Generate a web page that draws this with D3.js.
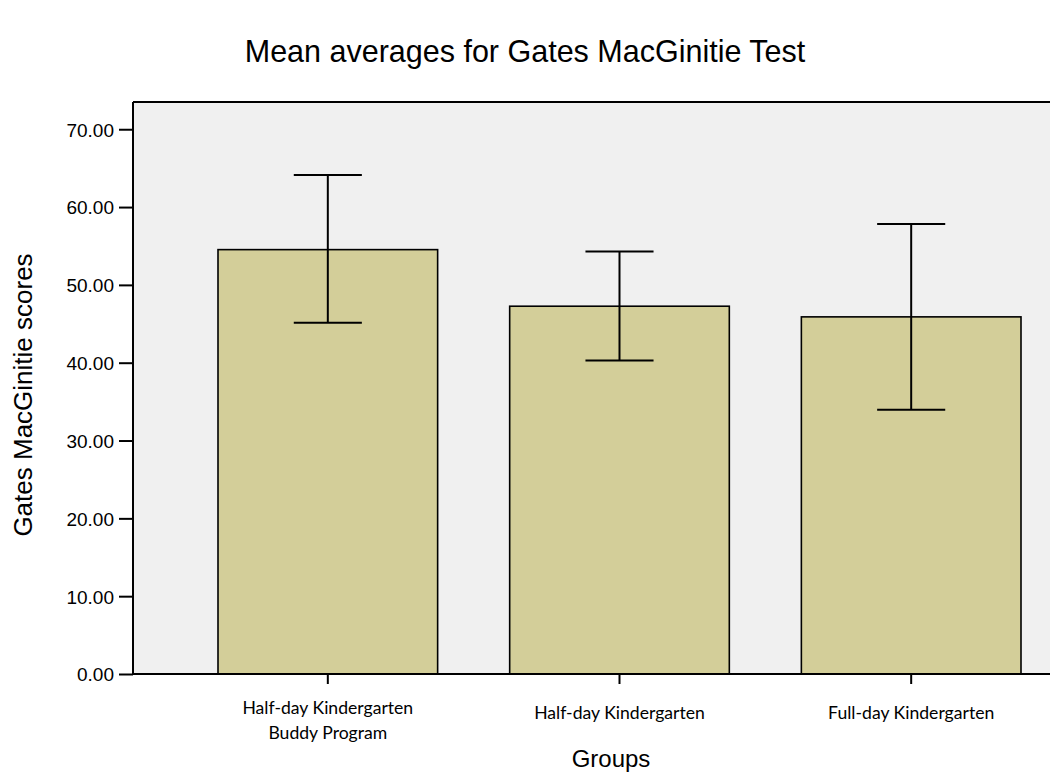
<!DOCTYPE html>
<html>
<head>
<meta charset="utf-8">
<script src="https://d3js.org/d3.v7.min.js"></script>
<style>
  body { margin: 0; background: #fff; }
  text { font-family: "Liberation Sans", Arial, sans-serif; fill: #000; }
</style>
</head>
<body>
<script>
// data
var groups = ["Half-day Kindergarten|Buddy Program", "Half-day Kindergarten", "Full-day Kindergarten"];
var means = [54.53, 47.26, 45.89];
var upper = [64.13, 54.28, 57.83];
var lower = [45.12, 40.28, 33.95];
var yTicks = [0, 10, 20, 30, 40, 50, 60, 70];

var W = 1050, H = 782;
var plot = {left: 133, top: 102, right: 1050, bottom: 674};

var svg = d3.select("body").append("svg")
    .attr("width", W)
    .attr("height", H);

// plot background
svg.append("rect")
    .attr("x", plot.left)
    .attr("y", plot.top)
    .attr("width", plot.right - plot.left)
    .attr("height", plot.bottom - plot.top)
    .style("fill", "#f0f0f0");

var x = d3.scaleBand()
    .domain(groups)
    .range([218, 1021])
    .paddingInner(0.247)
    .paddingOuter(0);

var y = d3.scaleLinear()
    .domain([0, 73.5])
    .range([plot.bottom, plot.top]);

var rows = groups.map(function(g, i) {
    return {group: g, mean: means[i], hi: upper[i], lo: lower[i]};
});

// bars
svg.append("g").selectAll("rect")
    .data(rows)
    .enter()
    .append("rect")
    .attr("x", function(d) { return x(d.group); })
    .attr("y", function(d) { return y(d.mean); })
    .attr("width", x.bandwidth())
    .attr("height", function(d) { return y(0) - y(d.mean); })
    .style("fill", "#d3ce99")
    .style("stroke", "#000")
    .style("stroke-width", 1.6);

// error bars
var capW = x.bandwidth() * 0.31;
var err = svg.append("g").selectAll("g")
    .data(rows)
    .enter()
    .append("g")
    .style("stroke", "#000")
    .style("stroke-width", 2);
err.append("line")
    .attr("x1", function(d) { return x(d.group) + x.bandwidth() / 2; })
    .attr("x2", function(d) { return x(d.group) + x.bandwidth() / 2; })
    .attr("y1", function(d) { return y(d.lo); })
    .attr("y2", function(d) { return y(d.hi); });
err.append("line")
    .attr("x1", function(d) { return x(d.group) + x.bandwidth() / 2 - capW / 2; })
    .attr("x2", function(d) { return x(d.group) + x.bandwidth() / 2 + capW / 2; })
    .attr("y1", function(d) { return y(d.hi); })
    .attr("y2", function(d) { return y(d.hi); });
err.append("line")
    .attr("x1", function(d) { return x(d.group) + x.bandwidth() / 2 - capW / 2; })
    .attr("x2", function(d) { return x(d.group) + x.bandwidth() / 2 + capW / 2; })
    .attr("y1", function(d) { return y(d.lo); })
    .attr("y2", function(d) { return y(d.lo); });

// frame: top line
svg.append("line")
    .attr("x1", plot.left).attr("x2", plot.right)
    .attr("y1", plot.top).attr("y2", plot.top)
    .style("stroke", "#000").style("stroke-width", 2);

// Y axis
var yAxis = svg.append("g")
    .attr("transform", "translate(" + plot.left + ",0)")
    .call(d3.axisLeft(y).tickValues(yTicks).tickFormat(d3.format(".2f")).tickSize(14).tickPadding(5));
yAxis.select(".domain").attr("d", "M0," + plot.top + "V" + plot.bottom);
yAxis.selectAll("line, path").style("stroke", "#000").style("stroke-width", 2);
yAxis.selectAll("text")
    .style("font-family", "'Liberation Sans', Arial, sans-serif")
    .style("font-size", "19px")
    .attr("dy", "0.36em");

// X axis
var xAxis = svg.append("g")
    .attr("transform", "translate(0," + plot.bottom + ")")
    .call(d3.axisBottom(x).tickSize(10).tickFormat(""));
xAxis.select(".domain").attr("d", "M" + plot.left + ",0H" + plot.right);
xAxis.selectAll("line, path").style("stroke", "#000").style("stroke-width", 2);

// category labels (Calibri-like)
var labs = svg.append("g").selectAll("text")
    .data(groups)
    .enter()
    .append("text")
    .attr("text-anchor", "middle")
    .style("font-family", "Lato, 'Open Sans', sans-serif")
    .style("font-size", "17.6px")
    .attr("transform", function(d) {
        return "translate(" + (x(d) + x.bandwidth() / 2) + ",0)";
    });
labs.each(function(d) {
    var parts = d.split("|");
    var t = d3.select(this);
    var y0 = parts.length > 1 ? 714 : 719;
    parts.forEach(function(p, i) {
        t.append("tspan").attr("x", 0).attr("y", y0 + i * 25).text(p);
    });
});

// title
svg.append("text")
    .attr("x", 525)
    .attr("y", 62)
    .attr("text-anchor", "middle")
    .style("font-size", "30.5px")
    .text("Mean averages for Gates MacGinitie Test");

// axis titles
svg.append("text")
    .attr("x", 611)
    .attr("y", 767)
    .attr("text-anchor", "middle")
    .style("font-size", "24px")
    .text("Groups");

svg.append("text")
    .attr("transform", "translate(32,395) rotate(-90)")
    .attr("text-anchor", "middle")
    .style("font-size", "26px")
    .text("Gates MacGinitie scores");
</script>
</body>
</html>
